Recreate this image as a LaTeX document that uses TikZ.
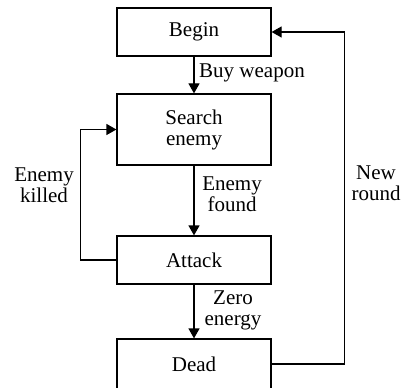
\documentclass[tikz,border=0pt]{standalone}
\usepackage{fontspec}
\setmainfont{Liberation Serif}
\usetikzlibrary{arrows.meta,positioning}

\begin{document}
\begin{tikzpicture}[x=1pt,y=-1pt,
  statebox/.style={draw,line width=1.2pt,minimum width=154pt,minimum height=48pt,
    align=center,inner sep=0pt,font=\fontsize{21}{21}\selectfont},
  flow/.style={-{Triangle[length=10pt,width=11pt]},line width=1.2pt},
  lbl/.style={align=center,inner sep=0pt,font=\fontsize{21}{21}\selectfont}
]
  \useasboundingbox (0,0) rectangle (403,387);

  % States
  \node[statebox] (begin) at (194,32) {Begin};
  \node[statebox,minimum height=71pt] (search) at (194,129.5) {Search\\enemy};
  \node[statebox] (attack) at (194,260) {Attack};
  \node[statebox,minimum height=50pt] (dead) at (194,364) {Dead};

  % Transitions
  \draw[flow] (begin) -- (search);
  \draw[flow] (search) -- (attack);
  \draw[flow] (attack) -- (dead);
  \draw[flow] (attack.west) -- ++(-36,0) |- (search.west);
  \draw[flow] (dead.east) -- ++(73,0) |- (begin.east);

  % Labels
  \node[lbl,anchor=west] (buy) at (199,73) {Buy weapon};
  \node[lbl] (found) at (232,194) {Enemy\\found};
  \node[lbl] (zero) at (233,310) {Zero\\energy};
  \node[lbl] (killed) at (44,185) {Enemy\\killed};
  \node[lbl] (round) at (376,183) {New\\round};
\end{tikzpicture}
\end{document}
